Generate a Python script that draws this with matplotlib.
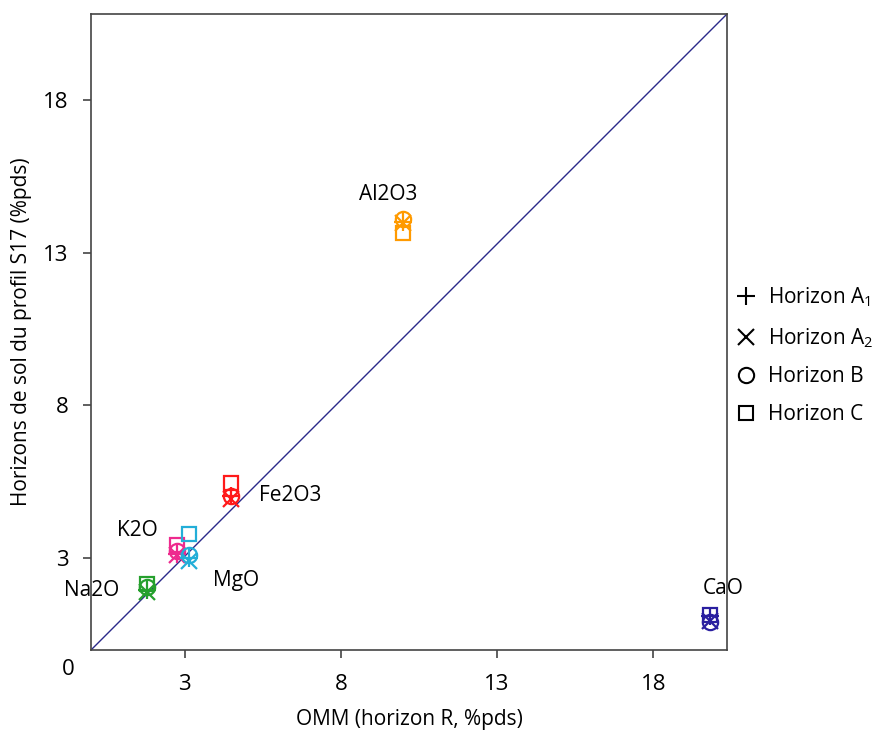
import numpy as np
import matplotlib
matplotlib.use('Agg')
import matplotlib.pyplot as plt
from matplotlib.lines import Line2D

# oxides and their OMM (horizon R) content, %pds
oxides = ['Al2O3', 'Fe2O3', 'K2O', 'MgO', 'Na2O', 'CaO']
omm = [10.0, 4.47, 2.75, 3.15, 1.78, 19.83]

# soil horizons of profile S17, %pds
horizon_a1 = [14.0, 5.05, 3.15, 3.0, 1.95, 1.1]
horizon_a2 = [13.95, 4.95, 3.1, 2.9, 1.9, 0.95]
horizon_b = [14.1, 5.05, 3.25, 3.1, 2.05, 0.9]
horizon_c = [13.65, 5.45, 3.45, 3.8, 2.15, 1.15]

# where the oxide names go
label_x = [9.5, 6.38, 1.47, 4.65, 0.03, 20.24]
label_y = [14.9, 5.05, 3.91, 2.26, 1.96, 2.02]

ticks = [3, 8, 13, 18]
x_lim = (0, 20.36)
y_lim = (0, 20.8)

colours = {'Al2O3': '#FF9A00', 'Fe2O3': '#FF1A1A', 'K2O': '#EE2A8E',
           'MgO': '#23AED8', 'Na2O': '#25A02D', 'CaO': '#2A1FA0'}

horizons = [('+', horizon_a1, 'Horizon A$_1$', 13),
            ('x', horizon_a2, 'Horizon A$_2$', 12),
            ('o', horizon_b, 'Horizon B', 11),
            ('s', horizon_c, 'Horizon C', 10.5)]

plt.rcParams['font.family'] = ['Open Sans', 'DejaVu Sans']
plt.rcParams['mathtext.fontset'] = 'custom'
plt.rcParams['mathtext.rm'] = 'Open Sans'

fig = plt.figure(figsize=(8.76, 7.35), dpi=100)
ax = fig.add_axes([91 / 876, 85 / 735, 636 / 876, 636 / 735])

ax.plot([x_lim[0], x_lim[1]], [y_lim[0], y_lim[1]], color='#2B2A8A', lw=1.0, zorder=1)

for i, ox in enumerate(oxides):
    for marker, values, name, ms in horizons:
        ax.plot(omm[i], values[i], marker=marker, ms=ms, mew=1.6,
                color=colours[ox], mfc='none', ls='none', zorder=3)
    ax.text(label_x[i], label_y[i], ox, fontsize=15, ha='center', va='center',
            clip_on=False, zorder=4)

ax.set_xlim(x_lim)
ax.set_ylim(y_lim)
ax.set_xticks(ticks)
ax.set_yticks(ticks)
ax.tick_params(axis='x', length=6, width=1.2, pad=11, labelsize=16, color='#444444')
ax.tick_params(axis='y', length=6, width=1.2, pad=10, labelsize=16, color='#444444')
for s in ax.spines.values():
    s.set_color('#444444')
    s.set_linewidth(1.2)

ax.text(-0.036, -0.03, '0', transform=ax.transAxes, fontsize=16, ha='center', va='center')

ax.set_xlabel('OMM (horizon R, %pds)', fontsize=15, labelpad=10)
ax.set_ylabel('Horizons de sol du profil S17 (%pds)', fontsize=15, labelpad=8)

handles = [Line2D([], [], marker=m, ms=ms, mew=1.5, color='black', mfc='none', ls='none')
           for m, v, name, ms in horizons]
names = [name for m, v, name, ms in horizons]
ax.legend(handles, names, loc='upper left', bbox_to_anchor=(1.0, 0.586), frameon=False,
          fontsize=15, handlelength=1.0, handletextpad=0.55, labelspacing=0.8,
          borderaxespad=0)

plt.savefig('out.png', dpi=100)
